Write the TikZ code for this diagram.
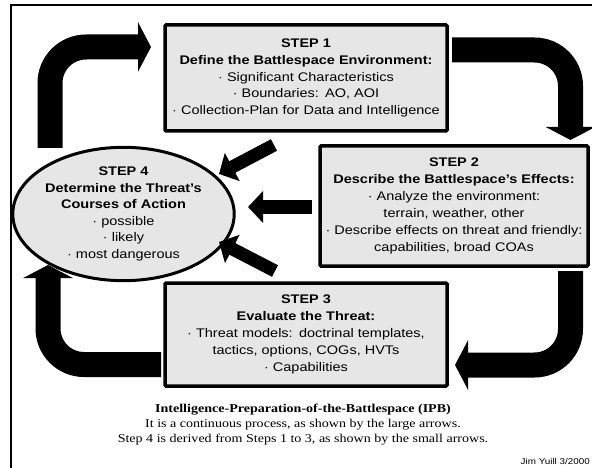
\documentclass[tikz,border=0pt]{standalone}
\usepackage{fontspec}
\setmainfont{Liberation Serif}[FakeStretch=1.17]
\setsansfont{Liberation Sans}[FakeStretch=1.16]
\usetikzlibrary{arrows.meta,shapes.geometric}
\definecolor{boxgray}{RGB}{230,230,230}

\begin{document}
\begin{tikzpicture}[x=1pt,y=-1pt,
  stepbox/.style={draw=black,line width=3.5pt,fill=boxgray,inner sep=0pt,
    align=center,rounded corners=1pt,
    font=\sffamily\fontsize{12.5}{16.9}\selectfont},
  stepoval/.style={ellipse,draw=black,line width=3pt,fill=boxgray,inner sep=0pt,
    align=center,font=\sffamily\fontsize{12.5}{16.6}\selectfont},
  bigarrow/.style={draw=black,line width=25pt,rounded corners=36pt,
    -{Triangle[length=13pt,width=49pt]}},
  smallarrow/.style={draw=black,line width=13pt,
    -{Triangle[length=15pt,width=31pt]}},
  caption/.style={align=center,font=\rmfamily\fontsize{12}{15}\selectfont},
]
\useasboundingbox (0,0) rectangle (592,468);
\clip (0,0) rectangle (592,468);
\fill[white] (0,0) rectangle (592,468);

% slide frame
\draw[line width=2pt] (11,475) -- (11,5) -- (600,5);

% the four steps
\node[stepbox,minimum width=282pt,minimum height=106pt] (s1) at (306,78)
  {\textbf{STEP 1}\\
   \textbf{Define the Battlespace Environment:}\\
   · Significant Characteristics\\
   · Boundaries:\enspace AO, AOI\\
   · Collection-Plan for Data and Intelligence};
\node[stepbox,minimum width=268pt,minimum height=120pt] (s2) at (454,206)
  {\textbf{STEP 2}\\
   \textbf{Describe the Battlespace's Effects:}\\
   · Analyze the environment:\\
   terrain, weather, other\\
   · Describe effects on threat and friendly:\\
   capabilities, broad COAs};
\node[stepbox,minimum width=282pt,minimum height=103pt] (s3) at (306,334.5)
  {\textbf{STEP 3}\\
   \textbf{Evaluate the Threat:}\\
   · Threat models:\enspace doctrinal templates,\\
   tactics, options, COGs, HVTs\\
   · Capabilities};
\node[stepoval,minimum width=196pt,minimum height=127pt] (s4) at (123.5,214)
  {\textbf{STEP 4}\\
   \textbf{Determine the Threat's}\\
   \textbf{Courses of Action}\\
   · possible\\
   · likely\\
   · most dangerous};

% points of the continuous cycle
\coordinate (c1a) at (50,148);
\coordinate (c1b) at (50,47);
\coordinate (c1c) at (151,47);
\coordinate (c2a) at (452,50);
\coordinate (c2b) at (570.5,50);
\coordinate (c2c) at (570.5,140);
\coordinate (c3a) at (570.5,271);
\coordinate (c3b) at (570.5,365);
\coordinate (c3c) at (455,365);
\coordinate (c4a) at (161,364.5);
\coordinate (c4b) at (48,364.5);
\coordinate (c4c) at (48,265);

\draw[bigarrow] (c1a) -- (c1b) -- (c1c);
\draw[bigarrow] (c2a) -- (c2b) -- (c2c);
\draw[bigarrow] (c3a) -- (c3b) -- (c3c);
\draw[bigarrow] (c4a) -- (c4b) -- (c4c);

% steps 1 to 3 feeding step 4
\coordinate (f1) at (274,145);
\coordinate (g1) at (219,174);
\coordinate (f2) at (312,207);
\coordinate (g2) at (248,207);
\coordinate (f3) at (275,271);
\coordinate (g3) at (219,242);
\draw[smallarrow] (f1) -- (g1);
\draw[smallarrow] (f2) -- (g2);
\draw[smallarrow] (f3) -- (g3);

% caption
\node[caption] (cap) at (303,425)
  {\textbf{Intelligence-Preparation-of-the-Battlespace (IPB)}\\
   It is a continuous process, as shown by the large arrows.\\
   Step 4 is derived from Steps 1 to 3, as shown by the small arrows.};
\node[anchor=east,inner sep=0pt,font=\sffamily\fontsize{8.5}{10}\selectfont] (auth) at (590,461)
  {Jim Yuill 3/2000};
\end{tikzpicture}
\end{document}
